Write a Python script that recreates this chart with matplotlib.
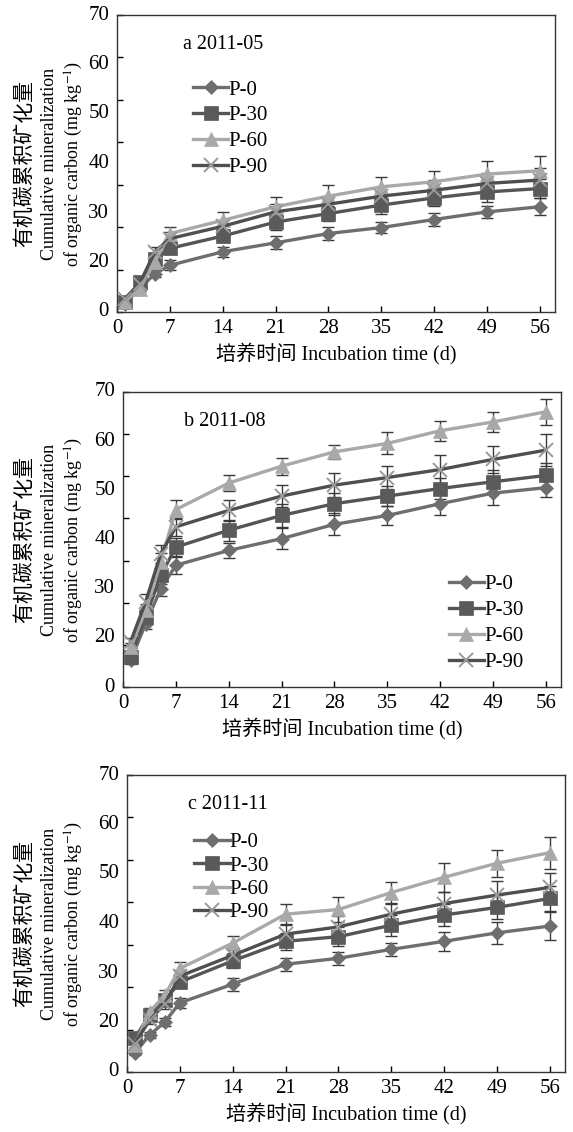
import matplotlib
matplotlib.use("Agg")
import matplotlib.pyplot as plt

plt.rcParams['font.family'] = ['Liberation Serif', 'Noto Sans CJK SC']
plt.rcParams['mathtext.fontset'] = 'stix'

days = [1, 3, 5, 7, 14, 21, 28, 35, 42, 49, 56]
series_names = ["P-0", "P-30", "P-60", "P-90"]
panel_titles = ["a 2011-05", "b 2011-08", "c 2011-11"]
xtick_vals = [0, 7, 14, 21, 28, 35, 42, 49, 56]
ytick_labels = ["0", "20", "30", "40", "50", "60", "70"]

# panel a (2011-05)
a_p0 = [2.0, 5.5, 9.0, 11.0, 14.2, 16.3, 18.5, 19.9, 21.8, 23.6, 24.8]
a_p30 = [2.4, 7.1, 12.6, 15.0, 17.9, 21.2, 23.2, 25.2, 26.9, 28.3, 29.1]
a_p60 = [2.4, 5.5, 11.8, 18.5, 21.6, 24.8, 27.3, 29.5, 30.7, 32.5, 33.3]
a_p90 = [3.1, 6.7, 14.2, 17.3, 20.2, 23.6, 25.4, 27.3, 28.7, 30.3, 31.1]
a_e0 = [0.5, 0.6, 0.8, 1.2, 1.2, 1.5, 1.5, 1.3, 1.6, 1.4, 2.0]
a_e30 = [0.6, 0.8, 1.0, 1.3, 1.5, 1.8, 1.8, 2.2, 2.0, 2.3, 2.2]
a_e60 = [0.5, 0.6, 1.0, 1.5, 2.0, 2.4, 2.6, 2.3, 2.6, 3.0, 3.4]
a_e90 = [0.5, 0.7, 1.2, 1.5, 1.6, 1.8, 2.0, 2.2, 2.3, 2.5, 2.8]

# panel b (2011-08)
b_p0 = [6.3, 15.0, 23.3, 28.9, 32.4, 35.2, 38.6, 40.7, 43.5, 46.0, 47.3]
b_p30 = [7.1, 16.6, 26.5, 33.2, 37.2, 40.7, 43.5, 45.3, 47.1, 48.7, 50.2]
b_p60 = [9.5, 18.2, 29.7, 42.1, 48.4, 52.4, 55.8, 57.8, 60.8, 62.9, 65.3]
b_p90 = [10.7, 20.2, 31.6, 38.0, 41.9, 45.3, 47.9, 49.7, 51.6, 54.0, 56.2]
b_e0 = [0.8, 1.2, 1.8, 2.0, 1.8, 2.5, 2.6, 2.2, 2.8, 2.8, 2.2]
b_e30 = [0.8, 1.5, 2.0, 2.2, 2.5, 2.8, 2.6, 2.4, 2.5, 2.7, 3.0]
b_e60 = [1.0, 1.5, 2.0, 2.2, 2.0, 2.0, 1.6, 2.6, 2.4, 2.3, 3.1]
b_e90 = [1.0, 1.8, 2.2, 2.2, 2.4, 2.6, 2.8, 2.8, 3.5, 3.2, 3.8]

# panel c (2011-11)
c_p0 = [4.5, 8.7, 11.8, 16.3, 20.7, 25.4, 26.8, 28.9, 30.8, 32.8, 34.4]
c_p30 = [7.9, 13.4, 16.9, 21.2, 26.2, 30.8, 31.9, 34.6, 37.0, 38.8, 40.9]
c_p60 = [6.3, 14.2, 18.1, 24.4, 30.4, 37.2, 38.3, 42.3, 45.9, 49.2, 51.7]
c_p90 = [6.7, 12.2, 16.1, 22.6, 27.5, 32.5, 34.2, 37.2, 39.7, 41.7, 43.5]
c_e0 = [0.6, 0.8, 1.0, 1.2, 1.5, 1.5, 1.6, 1.6, 2.3, 2.6, 3.2]
c_e30 = [0.8, 1.0, 1.2, 1.5, 1.8, 2.0, 2.2, 2.5, 2.6, 2.8, 3.0]
c_e60 = [0.8, 1.0, 1.2, 1.5, 1.7, 2.4, 3.0, 2.4, 3.4, 3.2, 3.8]
c_e90 = [0.8, 1.0, 1.2, 1.5, 1.8, 2.2, 2.5, 2.4, 2.8, 3.2, 3.4]

panels = [
    ([a_p0, a_p30, a_p60, a_p90], [a_e0, a_e30, a_e60, a_e90]),
    ([b_p0, b_p30, b_p60, b_p90], [b_e0, b_e30, b_e60, b_e90]),
    ([c_p0, c_p30, c_p60, c_p90], [c_e0, c_e30, c_e60, c_e90]),
]

line_colors = ['#6e6e6e', '#555555', '#a9a9a9', '#4f4f4f']
marker_colors = ['#6e6e6e', '#5a5a5a', '#a9a9a9', '#9a9a9a']
markers = ['D', 's', '^', 'x']
msizes = [7, 10, 10, 10]

W, H = 573, 1132
# axes boxes in pixels: left, top, right, bottom
boxes = [(117, 15, 555, 312), (123, 392, 561, 687), (127, 775, 565, 1072)]
legend_anchor = [(0.14, 0.83), (0.71, 0.43), (0.12, 0.855)]
legend_spacing = [0.3, 0.3, 0.18]

fig = plt.figure(figsize=(W / 100, H / 100), dpi=100)

for k, (vals, errs) in enumerate(panels):
    l, t, r, b = boxes[k]
    ax = fig.add_axes([l / W, 1 - b / H, (r - l) / W, (b - t) / H])
    for i in range(4):
        ax.errorbar(days, vals[i], yerr=errs[i], fmt='none', ecolor='#3a3a3a',
                    elinewidth=1.0, capsize=4, capthick=1.0, zorder=2)
    for i in range(4):
        ax.plot(days, vals[i], color=line_colors[i], lw=2.4, marker=markers[i],
                ms=msizes[i], mfc=marker_colors[i], mec=marker_colors[i],
                mew=1.4 if markers[i] == 'x' else 0.5, label=series_names[i], zorder=3 + i)

    ax.set_xlim(0, 58)
    ax.set_ylim(0, 70)
    ax.set_xticks(xtick_vals)
    ax.set_xticklabels([str(v) for v in xtick_vals])
    ax.set_yticks(range(0, 71, 10))
    ax.set_yticklabels([])
    ax.tick_params(direction='in', length=4, width=1, labelsize=15, pad=5)
    for sp in ax.spines.values():
        sp.set_linewidth(1.0)
        sp.set_color('#333333')
    for j, lab in enumerate(ytick_labels):
        ax.text(-0.018, j / 6, lab, transform=ax.transAxes, ha='right', va='center', fontsize=15)

    ax.text(0.15 if k == 0 else 0.14, 0.9, panel_titles[k], transform=ax.transAxes,
            ha='left', va='center', fontsize=14.5)

    ax.legend(loc='upper left', bbox_to_anchor=legend_anchor[k], frameon=False, fontsize=15,
              handlelength=1.7, handletextpad=0.0, labelspacing=legend_spacing[k], borderpad=0.2)

    ax.set_xlabel('培养时间 Incubation time (d)', fontsize=14.5, labelpad=3)

    yc = 1 - (t + b) / 2 / H
    fig.text(25 / W, yc, '有机碳累积矿化量', rotation=90, ha='center', va='center', fontsize=15)
    fig.text(50 / W, yc, 'Cumulative mineralization', rotation=90, ha='center', va='center', fontsize=13)
    fig.text(74 / W, yc, 'of organic carbon (mg kg$^{-1}$)', rotation=90, ha='center', va='center', fontsize=13)

fig.savefig('out.png', dpi=100, facecolor='white')
